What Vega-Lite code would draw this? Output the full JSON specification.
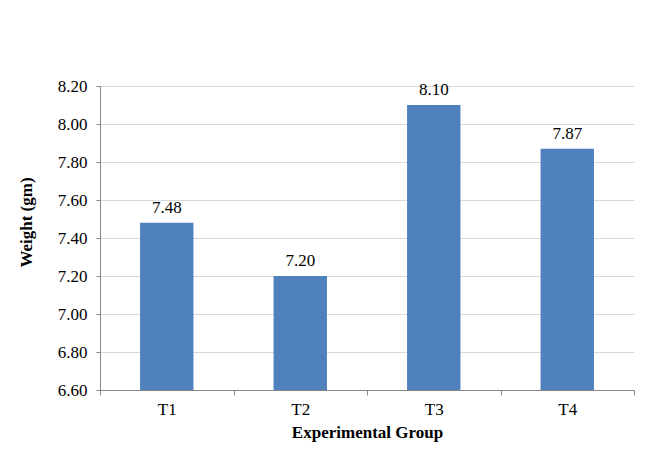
{
  "$schema": "https://vega.github.io/schema/vega-lite/v6.json",
  "width": 534,
  "height": 304,
  "autosize": {"type": "none"},
  "padding": {"left": 100, "top": 86, "right": 21, "bottom": 65},
  "background": "white",
  "data": {
    "values": [
      {"group": "T1", "weight": 7.48},
      {"group": "T2", "weight": 7.2},
      {"group": "T3", "weight": 8.1},
      {"group": "T4", "weight": 7.87}
    ]
  },
  "encoding": {
    "x": {
      "field": "group",
      "type": "nominal",
      "title": "Experimental Group",
      "scale": {"paddingInner": 0, "paddingOuter": 0},
      "axis": {
        "labelAngle": 0,
        "tickBand": "extent",
        "tickSize": 5,
        "labelPadding": 6,
        "titlePadding": 7
      }
    },
    "y": {
      "field": "weight",
      "type": "quantitative",
      "title": "Weight (gm)",
      "scale": {"domain": [6.6, 8.2], "zero": false, "nice": false},
      "axis": {
        "values": [6.6, 6.8, 7.0, 7.2, 7.4, 7.6, 7.8, 8.0, 8.2],
        "format": ".2f",
        "tickSize": 4,
        "labelPadding": 9,
        "titleX": -65,
        "titleY": 136
      }
    }
  },
  "layer": [
    {
      "mark": {"type": "bar", "color": "#4F81BD", "width": {"band": 0.4}},
      "encoding": {"y2": {"datum": 6.6}}
    },
    {
      "mark": {"type": "text", "baseline": "alphabetic", "dy": -10, "fontSize": 17, "color": "black", "font": "Liberation Serif"},
      "encoding": {
        "text": {"field": "weight", "type": "quantitative", "format": ".2f"}
      }
    }
  ],
  "config": {
    "font": "Liberation Serif",
    "view": {"stroke": null},
    "text": {"font": "Liberation Serif"},
    "axis": {
      "labelFont": "Liberation Serif",
      "titleFont": "Liberation Serif",
      "labelFontSize": 17,
      "titleFontSize": 17,
      "titleFontWeight": "bold",
      "labelColor": "black",
      "titleColor": "black",
      "domainColor": "#868686",
      "tickColor": "#868686",
      "gridColor": "#D9D9D9"
    },
    "axisX": {"grid": false},
    "axisY": {"grid": true}
  }
}
